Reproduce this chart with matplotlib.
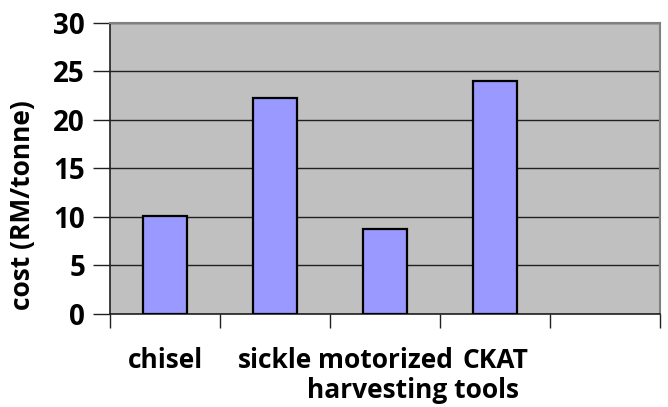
import numpy as np
import matplotlib
matplotlib.use('Agg')
import matplotlib.pyplot as plt

########## Data ##########
tools = ['chisel' , 'sickle' , 'motorized' , 'CKAT' , '']
cost = [10.15 , 22.3 , 8.8 , 24.0 , np.nan]
yticks = [0 , 5 , 10 , 15 , 20 , 25 , 30]

########## Plot ##########
plt.rcParams['font.family'] = ['Open Sans' , 'DejaVu Sans']
plt.rcParams['font.weight'] = 'bold'

fig = plt.figure(figsize = [6.68 , 4.07] , dpi = 100)
ax = fig.add_axes([0.1647 , 0.2285 , 0.8233 , 0.715])
ax.set_facecolor('#c0c0c0')

x = np.arange(len(tools))
ax.bar(x , cost , width = 0.4 , color = '#9999ff' , edgecolor = 'k' , linewidth = 1.6 , zorder = 3)

ax.set_xlim(-0.5 , len(tools) - 0.5)
ax.set_ylim(0 , 30)
ax.set_yticks(yticks)
ax.yaxis.grid(True , color = '#202020' , linewidth = 1.0 , zorder = 1)
ax.tick_params(axis = 'y' , length = 12 , width = 1.0 , pad = 6 , labelsize = 20 , color = '#202020')

# category labels at centres, tick marks at boundaries
ax.set_xticks(x)
ax.set_xticklabels(tools , fontsize = 19)
ax.set_xticks(np.arange(-0.5 , len(tools)) , minor = True)
ax.tick_params(axis = 'x' , which = 'major' , length = 0 , pad = 24)
ax.tick_params(axis = 'x' , which = 'minor' , length = 10 , width = 1.0 , color = '#202020')

for s in ['top' , 'right']:
    ax.spines[s].set_color('#808080')
    ax.spines[s].set_linewidth(1.5)
for s in ['left' , 'bottom']:
    ax.spines[s].set_color('#202020')
    ax.spines[s].set_linewidth(1.2)

ax.set_xlabel('harvesting tools' , fontsize = 19 , fontweight = 'bold')
ax.xaxis.set_label_coords(0.551 , -0.215)
ax.set_ylabel('cost (RM/tonne)' , fontsize = 19 , fontweight = 'bold')
ax.yaxis.set_label_coords(-0.135 , 0.375)

fig.savefig('out.png' , dpi = 100)
